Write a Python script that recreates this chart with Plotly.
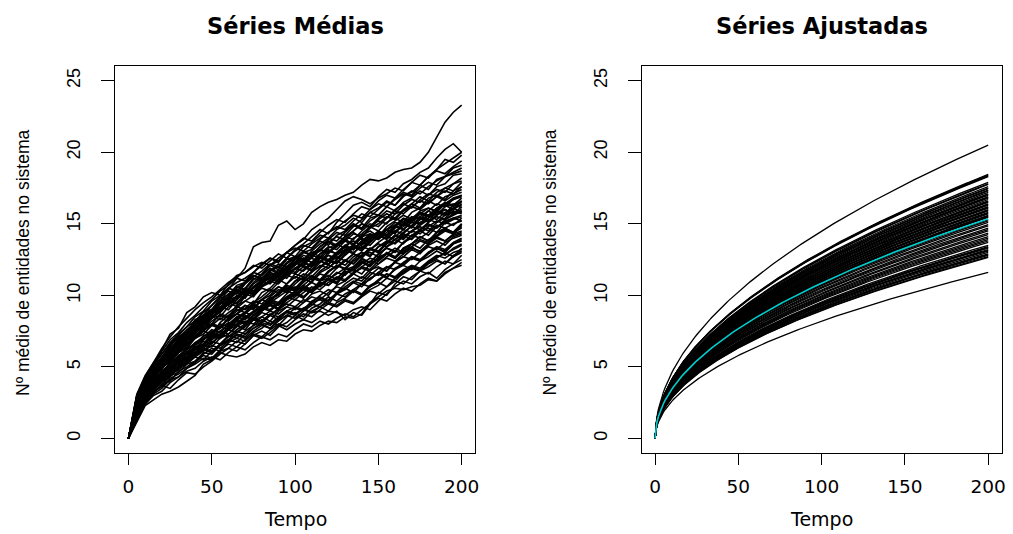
import plotly.graph_objects as go

# ---- Séries médias: nº médio de entidades no sistema, lido a cada 5 unidades de tempo ----
tempo_medias = list(range(0, 201, 5))

serie_01 = [0, 2.4, 3.5, 4.4, 5.0, 5.6, 6.3, 6.9, 7.6, 8.4, 8.9, 9.6, 10.4, 11.2, 11.9, 13.4, 13.7, 13.8, 14.9, 15.2, 14.6, 15.0, 15.8, 16.2, 16.5, 16.7, 17.0, 17.2, 17.7, 18.1, 18.0, 18.2, 18.6, 18.8, 18.9, 19.3, 20.0, 21.0, 22.1, 22.8, 23.3]
serie_02 = [0, 2.9, 4.2, 5.0, 6.2, 7.3, 7.7, 8.8, 9.2, 9.9, 10.2, 10.0, 10.8, 11.4, 11.6, 12.1, 11.9, 12.4, 12.9, 12.6, 13.2, 13.6, 14.1, 14.6, 14.3, 15.1, 15.7, 16.3, 16.5, 16.2, 16.9, 17.4, 17.2, 17.8, 18.1, 18.6, 18.9, 19.6, 20.2, 20.6, 20.0]
serie_03 = [0, 2.6, 3.9, 4.9, 5.6, 6.2, 6.9, 7.4, 8.3, 8.6, 9.3, 9.9, 10.5, 10.9, 11.2, 11.6, 12.2, 12.6, 12.3, 13.0, 13.5, 13.9, 14.6, 15.0, 15.4, 16.0, 16.6, 16.9, 16.7, 16.4, 16.8, 17.1, 17.5, 17.3, 17.9, 18.4, 18.2, 18.8, 19.5, 19.3, 19.8]
serie_04 = [0, 1.1, 2.3, 2.7, 3.1, 3.3, 3.6, 4.0, 4.4, 5.2, 5.5, 6.0, 5.8, 5.7, 5.9, 6.4, 6.7, 6.5, 6.9, 6.8, 7.3, 7.6, 7.5, 7.9, 8.2, 8.1, 8.5, 8.4, 8.7, 9.5, 9.9, 10.3, 10.5, 10.4, 10.6, 10.7, 11.1, 11.0, 11.6, 11.9, 12.1]
serie_05 = [0, 1.5, 2.6, 3.2, 3.7, 3.5, 4.1, 4.6, 4.5, 5.0, 5.4, 5.9, 6.3, 6.1, 6.6, 7.2, 7.0, 7.4, 7.9, 7.6, 8.0, 8.3, 8.1, 8.5, 8.9, 8.8, 8.6, 9.0, 9.2, 9.0, 9.6, 10.1, 10.6, 11.0, 10.8, 11.3, 11.6, 11.2, 11.8, 12.2, 12.5]
serie_06 = [0, 1.8, 2.9, 3.6, 4.1, 4.6, 4.9, 5.5, 5.9, 6.3, 6.1, 6.6, 7.2, 7.0, 7.5, 7.9, 8.3, 8.0, 8.5, 8.9, 8.7, 9.1, 8.8, 8.9, 8.6, 8.9, 8.3, 8.8, 8.6, 9.4, 10.2, 10.0, 10.8, 11.3, 11.1, 11.7, 12.0, 12.4, 12.2, 12.7, 13.0]
serie_07 = [0, 2.0, 3.2, 3.8, 4.6, 4.9, 5.5, 6.1, 6.0, 6.6, 7.2, 7.0, 7.6, 8.2, 8.0, 8.6, 9.1, 8.9, 9.4, 9.8, 10.2, 9.9, 10.4, 10.9, 10.7, 11.2, 11.0, 11.5, 12.0, 11.8, 12.4, 12.9, 12.6, 13.1, 13.4, 13.0, 13.6, 14.1, 13.8, 14.3, 14.5]
serie_08 = [0, 2.4, 3.5, 4.3, 4.8, 5.6, 6.0, 6.4, 7.0, 7.5, 7.3, 8.1, 8.6, 9.0, 8.8, 9.5, 9.9, 10.4, 10.2, 10.8, 11.3, 11.1, 11.7, 12.0, 12.5, 12.3, 12.9, 13.4, 13.1, 13.7, 14.2, 14.0, 14.5, 14.3, 14.9, 15.4, 15.1, 15.6, 16.0, 15.7, 15.8]
serie_09 = [0, 2.7, 3.9, 4.5, 5.4, 6.0, 6.7, 7.0, 7.8, 8.1, 8.6, 9.2, 9.0, 9.7, 10.3, 10.1, 10.8, 11.3, 11.0, 11.6, 12.1, 12.6, 12.3, 12.9, 13.4, 13.2, 13.8, 14.3, 14.1, 14.7, 15.0, 15.5, 15.3, 15.9, 16.2, 16.0, 16.5, 16.9, 16.6, 17.0, 17.2]
serie_10 = [0, 2.1, 3.0, 3.6, 4.1, 4.7, 5.0, 5.4, 5.9, 6.3, 6.8, 6.6, 7.1, 7.4, 7.8, 8.3, 8.1, 8.6, 9.0, 9.4, 9.2, 9.7, 9.5, 10.0, 10.4, 10.2, 10.8, 11.2, 11.0, 11.6, 11.4, 11.9, 12.3, 12.1, 12.6, 12.4, 12.9, 13.3, 13.1, 13.6, 13.8]
serie_11 = [0, 2.5, 3.7, 4.6, 5.2, 5.9, 6.5, 6.9, 7.4, 7.9, 8.5, 8.3, 8.8, 9.2, 9.0, 9.4, 9.7, 9.5, 9.9, 10.3, 10.1, 10.5, 10.9, 10.6, 11.1, 11.5, 11.9, 11.7, 12.2, 12.6, 12.4, 12.9, 13.3, 13.0, 13.6, 13.9, 13.7, 14.2, 14.6, 14.4, 15.0]
serie_12 = [0, 2.3, 3.4, 4.2, 5.0, 5.5, 6.2, 6.7, 7.1, 7.7, 8.2, 8.6, 8.4, 9.1, 9.6, 10.0, 10.5, 10.3, 10.9, 11.4, 11.2, 11.8, 12.3, 12.7, 12.5, 13.0, 13.5, 13.2, 13.8, 14.3, 14.1, 14.6, 14.9, 15.4, 15.2, 15.7, 15.5, 16.0, 16.4, 16.2, 16.5]
serie_13 = [0, 2.8, 4.0, 4.9, 5.6, 6.4, 6.8, 7.5, 8.0, 8.5, 8.9, 9.5, 9.8, 10.4, 10.2, 10.9, 11.4, 11.9, 11.6, 12.3, 12.7, 12.5, 13.1, 13.6, 14.0, 13.8, 14.4, 14.9, 14.6, 15.2, 15.6, 15.4, 16.0, 16.4, 16.1, 16.7, 17.1, 16.9, 17.5, 17.8, 18.0]
serie_14 = [0, 1.9, 2.8, 3.4, 3.9, 4.3, 4.9, 5.2, 5.7, 5.5, 6.1, 6.5, 6.9, 6.7, 7.3, 7.7, 8.1, 7.9, 8.4, 8.8, 8.6, 9.1, 9.4, 9.2, 9.7, 10.1, 9.9, 10.4, 10.8, 10.6, 11.1, 11.5, 11.3, 11.8, 12.1, 11.9, 12.4, 12.8, 12.6, 13.0, 13.2]
serie_15 = [0, 2.2, 3.6, 4.4, 5.1, 5.7, 6.3, 6.6, 7.2, 7.6, 8.0, 7.8, 8.3, 8.7, 8.5, 8.9, 9.3, 9.6, 9.4, 9.9, 10.3, 10.7, 11.2, 11.0, 11.6, 12.1, 11.9, 12.5, 13.0, 12.8, 13.4, 13.8, 13.6, 14.1, 14.5, 14.3, 14.8, 15.2, 15.0, 15.3, 15.5]
serie_16 = [0, 2.9, 4.2, 5.1, 5.9, 6.6, 7.2, 7.8, 8.2, 8.8, 9.3, 9.9, 10.3, 10.1, 10.8, 11.3, 11.7, 12.2, 12.0, 12.6, 13.1, 13.5, 13.3, 13.9, 14.4, 14.8, 14.6, 15.2, 15.7, 15.5, 16.0, 16.5, 16.3, 16.9, 17.3, 17.1, 17.6, 18.0, 18.3, 18.5, 18.7]
serie_17 = [0, 2.0, 3.1, 3.9, 4.4, 5.0, 5.3, 5.9, 6.3, 6.1, 6.7, 7.1, 7.6, 7.4, 7.9, 8.3, 8.8, 8.6, 9.1, 9.5, 9.9, 10.4, 10.2, 10.7, 11.1, 11.6, 11.4, 12.0, 12.5, 12.3, 12.9, 13.3, 13.1, 13.7, 14.2, 14.0, 14.4, 14.9, 14.7, 15.0, 15.2]
serie_18 = [0, 2.8, 4.1, 5.0, 5.7, 6.5, 7.1, 7.5, 8.1, 8.6, 9.0, 9.5, 9.3, 9.9, 10.4, 10.2, 10.7, 11.0, 10.8, 11.4, 11.9, 11.7, 12.2, 12.6, 12.4, 12.9, 13.4, 13.2, 13.8, 14.2, 14.0, 14.6, 15.1, 14.9, 15.4, 15.8, 15.6, 16.1, 16.5, 16.3, 16.8]
serie_19 = [0, 1.6, 2.7, 3.3, 3.6, 4.2, 4.5, 4.9, 5.3, 5.8, 5.6, 6.2, 6.6, 6.4, 6.9, 7.3, 7.1, 7.6, 8.0, 7.8, 8.3, 8.7, 8.5, 9.0, 9.4, 9.2, 9.6, 9.4, 9.9, 10.3, 10.1, 10.6, 11.0, 10.8, 11.3, 11.7, 11.5, 12.0, 12.4, 12.2, 12.8]
serie_20 = [0, 2.4, 3.5, 4.4, 4.9, 5.5, 6.0, 6.6, 7.0, 7.5, 8.0, 7.8, 8.4, 8.9, 9.3, 9.1, 9.7, 10.2, 10.6, 10.4, 11.0, 11.5, 11.3, 11.9, 12.4, 12.2, 12.8, 13.3, 13.7, 13.5, 14.1, 14.6, 14.4, 15.0, 15.5, 15.3, 15.9, 16.4, 16.2, 16.7, 17.0]
serie_21 = [0, 3.0, 4.3, 5.3, 6.1, 6.9, 7.4, 8.1, 8.6, 9.2, 9.7, 10.3, 10.7, 11.2, 11.0, 11.6, 12.1, 12.6, 12.4, 13.0, 13.5, 14.0, 13.8, 14.4, 14.9, 15.3, 15.1, 15.7, 16.2, 16.0, 16.6, 17.0, 16.8, 17.4, 17.9, 17.7, 18.3, 18.7, 18.5, 19.0, 19.4]
serie_22 = [0, 2.1, 3.3, 3.8, 4.5, 4.9, 5.4, 5.7, 6.2, 6.6, 7.1, 7.5, 7.3, 7.8, 8.2, 8.0, 8.5, 8.9, 8.7, 9.2, 9.0, 9.5, 9.9, 9.7, 10.2, 10.6, 10.4, 10.9, 11.3, 11.1, 11.6, 12.0, 11.8, 12.3, 12.7, 12.5, 13.0, 13.4, 13.2, 13.7, 14.0]
serie_23 = [0, 2.3, 3.3, 4.1, 4.7, 5.2, 5.8, 6.2, 6.7, 7.1, 7.6, 7.4, 8.0, 8.5, 8.3, 8.8, 9.3, 9.7, 9.5, 10.1, 10.6, 10.4, 11.0, 11.5, 11.3, 11.9, 12.4, 12.2, 12.8, 13.3, 13.1, 13.7, 14.2, 14.0, 14.5, 14.9, 15.3, 15.1, 15.6, 15.8, 16.0]
serie_24 = [0, 2.6, 3.8, 4.7, 5.3, 6.0, 6.5, 7.1, 7.7, 8.2, 8.7, 9.1, 9.6, 9.4, 10.0, 10.5, 11.0, 10.8, 11.4, 11.9, 12.3, 12.1, 12.7, 13.2, 13.0, 13.6, 14.1, 13.9, 14.5, 15.0, 14.8, 15.4, 15.9, 15.7, 16.2, 16.6, 16.4, 16.9, 17.3, 17.1, 17.6]
serie_25 = [0, 2.5, 3.6, 4.2, 5.0, 5.6, 6.1, 6.8, 7.3, 7.9, 8.4, 8.9, 9.4, 9.9, 10.3, 10.1, 10.6, 11.1, 11.6, 11.4, 11.9, 12.3, 12.1, 12.6, 12.4, 12.8, 13.2, 13.0, 13.4, 13.2, 13.7, 14.1, 13.9, 14.4, 14.8, 14.6, 15.1, 15.5, 15.3, 15.7, 15.9]
serie_26 = [0, 1.8, 2.9, 3.5, 4.0, 4.5, 4.8, 5.3, 5.7, 6.1, 6.5, 6.3, 6.8, 7.2, 7.0, 7.5, 7.9, 7.7, 8.2, 8.6, 8.4, 8.9, 9.3, 9.8, 9.6, 10.1, 10.6, 11.0, 10.8, 11.4, 11.9, 11.7, 12.3, 12.7, 12.5, 13.0, 13.4, 13.2, 13.7, 14.0, 14.2]
serie_27 = [0, 2.9, 4.0, 4.8, 5.7, 6.2, 6.9, 7.4, 8.0, 8.4, 8.9, 9.4, 9.9, 10.3, 10.1, 10.6, 11.0, 11.5, 11.3, 11.8, 12.3, 12.8, 12.6, 13.2, 13.7, 14.1, 13.9, 14.5, 15.0, 14.8, 15.4, 15.9, 15.7, 16.3, 16.7, 16.5, 17.0, 17.4, 17.2, 17.8, 18.2]
serie_28 = [0, 2.2, 3.2, 4.0, 4.5, 5.1, 5.6, 5.9, 6.5, 6.9, 7.4, 7.2, 7.8, 8.3, 8.1, 8.6, 9.0, 9.5, 9.3, 9.8, 10.1, 9.9, 10.4, 10.9, 10.7, 11.2, 11.7, 11.5, 12.0, 12.4, 12.2, 12.7, 13.1, 12.9, 13.4, 13.8, 13.6, 14.1, 14.5, 14.3, 14.8]
serie_29 = [0, 2.6, 3.8, 4.8, 5.4, 6.1, 6.8, 7.3, 7.9, 8.5, 9.0, 9.6, 10.1, 10.5, 10.9, 11.4, 11.2, 11.7, 12.2, 12.0, 12.5, 12.3, 12.8, 12.6, 13.1, 12.9, 13.4, 13.2, 13.7, 14.1, 13.9, 14.4, 14.8, 14.6, 15.1, 15.0, 15.4, 15.8, 15.6, 16.1, 16.3]
serie_30 = [0, 2.0, 3.1, 3.7, 4.3, 4.8, 5.2, 5.7, 6.2, 6.6, 7.0, 7.5, 7.9, 8.4, 8.8, 9.3, 9.1, 9.7, 10.2, 10.7, 10.5, 11.1, 11.6, 12.1, 11.9, 12.5, 13.0, 13.5, 13.3, 13.9, 14.4, 14.2, 14.8, 15.3, 15.1, 15.7, 16.1, 15.9, 16.4, 16.7, 16.9]
serie_31 = [0, 2.0, 3.0, 3.7, 4.3, 4.6, 5.1, 5.6, 6.0, 6.4, 6.9, 7.3, 7.1, 7.6, 8.0, 8.4, 8.2, 8.7, 8.5, 8.9, 8.7, 9.0, 8.8, 9.2, 9.5, 9.3, 9.7, 9.5, 10.0, 10.4, 10.7, 11.2, 11.0, 11.6, 12.0, 11.8, 12.3, 12.7, 12.9, 13.2, 13.5]
serie_32 = [0, 2.7, 3.9, 4.7, 5.4, 6.1, 6.6, 7.2, 7.7, 8.3, 8.8, 9.2, 9.7, 10.2, 10.0, 10.6, 11.1, 11.6, 11.4, 12.0, 12.5, 13.0, 12.8, 13.4, 13.9, 14.4, 14.2, 14.8, 15.3, 15.8, 15.6, 16.2, 16.8, 17.2, 17.0, 17.7, 18.3, 18.8, 19.2, 19.6, 20.0]
serie_33 = [0, 3.1, 4.4, 5.3, 6.3, 7.1, 7.8, 8.4, 9.0, 9.5, 9.9, 10.4, 10.9, 11.3, 11.6, 12.0, 12.3, 12.1, 12.6, 13.0, 13.3, 13.1, 13.6, 14.0, 14.4, 14.7, 15.2, 15.6, 15.4, 16.0, 16.4, 16.2, 16.7, 17.1, 16.9, 17.5, 17.9, 17.7, 18.3, 18.6, 18.9]
serie_34 = [0, 1.3, 2.4, 3.0, 3.3, 3.9, 4.3, 4.7, 4.9, 5.4, 5.7, 5.5, 6.0, 6.4, 6.2, 6.7, 7.1, 6.9, 7.3, 7.1, 7.6, 8.0, 7.8, 8.2, 8.0, 8.4, 8.7, 8.5, 9.0, 9.4, 9.8, 9.6, 10.1, 10.5, 10.3, 10.8, 11.2, 11.0, 11.5, 11.9, 12.3]
serie_35 = [0, 2.4, 3.6, 4.3, 5.0, 5.4, 6.1, 6.5, 7.1, 7.6, 7.9, 8.4, 8.2, 8.7, 9.1, 9.6, 9.4, 9.9, 10.4, 10.2, 10.8, 11.3, 11.1, 11.7, 12.1, 11.9, 12.4, 12.9, 12.7, 13.2, 13.6, 13.4, 13.9, 14.3, 14.1, 14.6, 14.9, 14.7, 15.2, 15.4, 15.6]
serie_36 = [0, 2.3, 3.4, 4.0, 4.6, 5.3, 5.7, 6.3, 6.6, 7.0, 7.3, 7.7, 8.1, 7.9, 8.4, 8.8, 9.2, 9.0, 9.5, 9.9, 9.7, 10.2, 10.6, 10.4, 10.9, 11.3, 11.1, 11.6, 11.9, 11.7, 12.2, 12.6, 12.4, 12.9, 13.3, 13.1, 13.6, 14.0, 13.8, 14.2, 14.4]
serie_37 = [0, 2.6, 3.4, 4.5, 4.9, 5.8, 6.1, 6.9, 7.1, 7.8, 8.0, 8.7, 8.5, 9.3, 9.6, 9.4, 10.2, 10.5, 11.1, 10.8, 11.5, 11.3, 12.0, 12.4, 12.1, 12.9, 13.2, 12.9, 13.6, 14.0, 14.5, 14.2, 14.9, 15.1, 14.8, 15.5, 15.9, 15.6, 16.2, 16.4, 16.1]
serie_38 = [0, 1.9, 3.0, 3.5, 4.3, 4.6, 5.3, 5.5, 6.2, 6.5, 7.1, 7.0, 7.6, 7.9, 8.5, 8.3, 8.9, 9.3, 9.1, 9.8, 10.0, 10.6, 10.3, 11.0, 11.4, 11.1, 11.8, 12.0, 12.6, 12.3, 12.9, 13.3, 13.0, 13.7, 14.0, 14.5, 14.2, 14.8, 15.1, 14.9, 15.4]
serie_39 = [0, 2.9, 3.7, 4.8, 5.2, 6.1, 6.4, 7.2, 7.5, 8.3, 8.4, 9.1, 9.4, 10.0, 9.8, 10.6, 10.9, 11.5, 11.2, 12.0, 12.3, 12.0, 12.8, 13.1, 13.7, 13.4, 14.1, 14.4, 14.0, 14.8, 15.2, 15.0, 15.7, 15.9, 16.4, 16.1, 16.8, 17.0, 16.7, 17.3, 17.6]
serie_40 = [0, 2.2, 2.9, 3.8, 4.1, 4.8, 5.0, 5.7, 5.9, 6.5, 6.4, 7.0, 7.3, 7.9, 7.6, 8.3, 8.5, 8.2, 8.9, 9.2, 9.7, 9.5, 10.1, 10.3, 10.0, 10.7, 11.0, 11.5, 11.2, 11.8, 12.0, 11.7, 12.4, 12.7, 13.2, 12.9, 13.5, 13.8, 13.5, 14.1, 14.3]
serie_41 = [0, 2.8, 4.0, 4.7, 5.6, 6.0, 6.9, 7.1, 7.9, 8.2, 8.9, 9.0, 9.7, 9.9, 10.5, 10.3, 10.9, 11.2, 10.9, 11.6, 11.8, 12.3, 12.0, 12.6, 12.8, 12.5, 13.2, 13.5, 14.0, 13.7, 14.3, 14.6, 14.3, 15.0, 15.3, 15.8, 15.5, 16.1, 16.3, 16.0, 16.6]
serie_42 = [0, 2.3, 3.1, 4.1, 4.4, 5.3, 5.5, 6.3, 6.5, 7.2, 7.3, 8.0, 7.8, 8.5, 8.8, 9.4, 9.1, 9.8, 10.0, 10.6, 10.4, 11.0, 11.3, 11.0, 11.7, 12.0, 12.5, 12.2, 12.8, 13.0, 12.7, 13.4, 13.7, 14.2, 13.9, 14.5, 14.7, 14.4, 15.1, 15.4, 15.2]
serie_43 = [0, 2.5, 3.9, 4.6, 5.5, 6.1, 6.7, 7.3, 7.6, 8.4, 8.7, 9.4, 9.6, 10.3, 10.5, 11.2, 11.0, 11.7, 12.0, 12.6, 12.3, 13.0, 13.2, 13.8, 13.5, 14.2, 14.5, 15.0, 14.7, 15.4, 15.6, 16.2, 15.9, 16.5, 16.8, 17.3, 17.0, 17.6, 17.8, 18.4, 18.5]
serie_44 = [0, 1.7, 2.6, 3.3, 3.7, 4.4, 4.6, 5.2, 5.4, 6.0, 5.9, 6.5, 6.8, 7.3, 7.1, 7.7, 8.0, 7.7, 8.3, 8.6, 9.1, 8.9, 9.5, 9.7, 9.4, 10.1, 10.4, 10.9, 10.6, 11.2, 11.5, 11.2, 11.9, 12.2, 12.7, 12.4, 13.0, 13.3, 13.0, 13.6, 13.9]
serie_45 = [0, 2.4, 3.8, 4.4, 5.3, 5.8, 6.6, 6.8, 7.6, 7.9, 8.6, 8.5, 9.2, 9.5, 10.1, 9.9, 10.6, 10.9, 11.4, 11.2, 11.9, 12.1, 11.8, 12.4, 12.2, 12.7, 12.4, 12.9, 12.6, 13.2, 13.0, 13.7, 14.1, 14.6, 14.4, 15.1, 15.4, 15.9, 15.7, 16.3, 16.6]
serie_46 = [0, 2.7, 4.1, 5.0, 5.6, 6.5, 7.0, 7.6, 8.1, 8.9, 9.0, 9.8, 10.0, 10.7, 10.9, 11.6, 11.4, 12.1, 12.4, 13.0, 12.7, 13.4, 13.7, 14.2, 14.0, 14.6, 14.9, 15.4, 15.1, 15.8, 16.1, 16.6, 16.3, 17.0, 17.2, 17.7, 17.4, 18.1, 18.3, 18.9, 19.1]
serie_47 = [0, 2.1, 3.3, 3.9, 4.7, 5.0, 5.7, 6.0, 6.7, 6.9, 7.5, 7.4, 8.0, 8.2, 8.8, 8.6, 9.2, 9.5, 9.3, 9.9, 10.2, 10.7, 10.4, 11.0, 11.2, 10.9, 11.6, 11.9, 12.4, 12.1, 12.7, 12.9, 12.6, 13.3, 13.6, 14.1, 13.8, 14.4, 14.6, 14.3, 14.9]
serie_48 = [0, 2.6, 3.6, 4.6, 5.4, 5.8, 6.7, 7.0, 7.7, 8.0, 8.8, 8.9, 9.6, 9.8, 10.4, 10.2, 10.9, 11.2, 11.8, 11.5, 12.2, 12.4, 13.0, 12.7, 13.3, 13.6, 13.3, 14.0, 14.3, 14.8, 14.5, 15.1, 15.4, 15.1, 15.8, 16.1, 16.6, 16.3, 16.9, 17.1, 17.4]
serie_49 = [0, 1.4, 2.5, 3.1, 3.5, 4.1, 4.3, 4.9, 5.2, 5.6, 5.5, 6.1, 6.3, 6.8, 6.6, 7.2, 7.5, 7.2, 7.8, 8.1, 8.6, 8.3, 8.9, 9.2, 8.9, 9.5, 9.8, 10.3, 10.0, 10.6, 10.9, 10.6, 11.2, 11.5, 11.9, 11.7, 12.2, 12.5, 12.2, 12.8, 13.1]
serie_50 = [0, 2.3, 3.5, 4.1, 5.0, 5.3, 6.0, 6.3, 7.0, 7.3, 7.9, 7.7, 8.4, 8.7, 9.3, 9.0, 9.7, 10.0, 10.6, 10.3, 11.0, 11.2, 10.9, 11.6, 11.9, 12.4, 12.1, 12.7, 13.0, 12.7, 13.4, 13.7, 14.2, 13.9, 14.5, 14.8, 14.5, 15.1, 15.4, 15.9, 15.7]
serie_51 = [0, 2.7, 3.9, 4.9, 5.5, 6.3, 6.7, 7.5, 7.8, 8.6, 8.9, 9.6, 9.9, 10.6, 10.4, 11.1, 11.5, 12.1, 11.8, 12.5, 12.7, 12.4, 13.0, 13.2, 12.9, 13.5, 13.8, 13.5, 14.1, 14.3, 14.0, 14.6, 14.9, 14.6, 15.2, 15.5, 15.2, 15.8, 16.0, 15.7, 16.2]
serie_52 = [0, 2.0, 3.2, 3.6, 4.5, 4.8, 5.5, 5.7, 6.4, 6.6, 7.3, 7.1, 7.7, 8.0, 8.6, 8.4, 9.0, 9.3, 9.0, 9.7, 10.0, 10.5, 10.2, 10.8, 11.1, 10.8, 11.5, 11.8, 12.3, 12.0, 12.6, 12.9, 12.6, 13.3, 13.6, 14.1, 13.8, 14.4, 14.7, 14.4, 15.0]
serie_53 = [0, 2.5, 3.4, 4.3, 5.1, 5.5, 6.4, 6.8, 7.5, 7.7, 8.4, 8.9, 9.5, 9.2, 9.9, 10.5, 10.9, 11.4, 11.1, 11.7, 11.5, 12.0, 11.7, 12.3, 12.8, 12.6, 13.1, 13.5, 13.2, 13.8, 14.2, 13.9, 14.5, 14.8, 15.3, 15.0, 15.6, 15.9, 15.6, 16.0, 16.4]
serie_54 = [0, 2.2, 3.1, 3.9, 4.2, 5.0, 5.2, 5.9, 6.3, 6.8, 6.6, 7.3, 7.7, 8.2, 8.0, 8.6, 8.9, 9.4, 9.1, 9.7, 10.1, 9.8, 10.4, 10.7, 11.2, 10.9, 11.5, 11.8, 11.5, 12.2, 12.5, 13.0, 12.7, 13.2, 13.6, 13.3, 13.9, 14.2, 14.7, 14.4, 14.7]
serie_55 = [0, 2.5, 3.7, 4.3, 5.2, 5.9, 6.3, 7.1, 7.4, 8.1, 8.5, 8.8, 9.4, 9.7, 10.3, 10.0, 10.7, 11.0, 11.6, 11.9, 11.6, 12.3, 12.6, 12.3, 13.0, 13.4, 13.9, 13.6, 14.2, 14.5, 14.1, 14.8, 15.2, 15.6, 15.3, 15.9, 16.1, 15.8, 16.4, 16.8, 17.0]
serie_56 = [0, 1.9, 2.8, 3.5, 4.0, 4.4, 5.0, 5.3, 5.8, 6.2, 6.0, 6.6, 6.9, 7.5, 7.3, 7.9, 8.1, 8.6, 8.3, 8.9, 9.2, 9.0, 9.6, 9.9, 9.6, 10.2, 10.5, 10.2, 10.8, 11.1, 11.6, 11.3, 11.8, 12.1, 11.8, 12.4, 12.7, 13.1, 12.8, 13.3, 13.6]
serie_57 = [0, 2.8, 3.8, 4.8, 5.6, 6.2, 6.9, 7.2, 8.0, 8.4, 8.7, 9.4, 9.8, 10.4, 10.1, 10.8, 11.2, 11.8, 11.5, 12.2, 12.6, 13.1, 12.8, 13.4, 13.8, 13.5, 14.1, 14.5, 15.0, 14.7, 15.3, 15.7, 15.4, 16.0, 16.4, 16.9, 16.6, 17.2, 17.5, 17.3, 17.9]
serie_58 = [0, 2.0, 2.9, 3.7, 4.4, 4.7, 5.4, 5.9, 6.2, 6.9, 7.3, 7.8, 7.6, 8.3, 8.7, 9.2, 9.0, 9.6, 10.1, 10.5, 10.3, 10.9, 11.4, 11.1, 11.7, 12.1, 11.8, 12.4, 12.8, 13.3, 13.0, 13.6, 13.9, 13.6, 14.2, 14.6, 15.0, 14.7, 15.3, 15.6, 15.9]
serie_59 = [0, 3.0, 4.1, 5.2, 5.9, 6.7, 7.3, 7.8, 8.5, 8.9, 9.6, 10.0, 10.5, 10.3, 10.9, 11.4, 11.1, 11.7, 12.0, 11.7, 12.3, 12.6, 12.3, 12.9, 13.2, 12.9, 13.5, 13.8, 13.5, 14.0, 14.4, 14.1, 14.7, 15.0, 14.7, 15.3, 15.6, 15.3, 15.8, 16.1, 15.8]
serie_60 = [0, 1.6, 2.6, 3.2, 3.8, 4.0, 4.7, 5.0, 5.4, 5.9, 6.3, 6.1, 6.7, 7.0, 6.8, 7.4, 7.7, 8.2, 7.9, 8.5, 8.8, 8.5, 9.1, 9.4, 9.9, 9.6, 10.1, 10.4, 10.1, 10.7, 11.0, 11.5, 11.2, 11.7, 12.0, 11.7, 12.3, 12.6, 13.0, 12.7, 13.3]

series_medias = [
    serie_01, serie_02, serie_03, serie_04, serie_05, serie_06, serie_07, serie_08, serie_09,
    serie_10, serie_11, serie_12, serie_13, serie_14, serie_15, serie_16, serie_17, serie_18,
    serie_19, serie_20, serie_21, serie_22, serie_23, serie_24, serie_25, serie_26, serie_27,
    serie_28, serie_29, serie_30, serie_31, serie_32, serie_33, serie_34, serie_35, serie_36,
    serie_37, serie_38, serie_39, serie_40, serie_41, serie_42, serie_43, serie_44, serie_45,
    serie_46, serie_47, serie_48, serie_49, serie_50, serie_51, serie_52, serie_53, serie_54,
    serie_55, serie_56, serie_57, serie_58, serie_59, serie_60,
]

# ---- Séries ajustadas: modelo y = c * (t/200)^b, c = valor ajustado em t = 200 ----
tempo_ajuste = list(range(0, 201))
expoente = 0.5
fim_ajustadas = [
    20.5,
    18.45, 18.4, 18.35, 18.3,
    17.9, 17.8, 17.75, 17.6, 17.5, 17.45, 17.35, 17.3, 17.2,
    17.1, 17.05, 17.0, 16.9, 16.85, 16.8, 16.7, 16.6, 16.55, 16.5, 16.4, 16.35, 16.3,
    16.2, 16.15, 16.1, 16.0, 15.95, 15.9, 15.8, 15.75, 15.7, 15.6, 15.55, 15.5, 15.45,
    15.3, 15.2, 15.1, 14.95, 14.85, 14.7, 14.6, 14.5, 14.35, 14.25, 14.1, 14.0, 13.9,
    13.8, 13.7,
    13.5, 13.4, 13.35, 13.3, 13.2, 13.15, 13.1, 13.0, 12.9, 12.85, 12.8, 12.7, 12.65,
    11.6,
]
fim_media_ajustada = 15.36

ticks_x = [0, 50, 100, 150, 200]
ticks_y = [0, 5, 10, 15, 20, 25]

W, H = 1013, 534
fig = go.Figure()

for serie in series_medias:
    fig.add_trace(go.Scatter(x=tempo_medias, y=serie, mode="lines",
                             line=dict(color="black", width=1.6),
                             xaxis="x", yaxis="y", showlegend=False, hoverinfo="skip"))

for c in fim_ajustadas:
    fig.add_trace(go.Scatter(x=tempo_ajuste, y=[c * (t / 200) ** expoente for t in tempo_ajuste],
                             mode="lines", line=dict(color="black", width=1.3),
                             xaxis="x2", yaxis="y2", showlegend=False, hoverinfo="skip"))

fig.add_trace(go.Scatter(x=tempo_ajuste,
                         y=[fim_media_ajustada * (t / 200) ** expoente for t in tempo_ajuste],
                         mode="lines", line=dict(color="#00CDCD", width=1.6),
                         xaxis="x2", yaxis="y2", showlegend=False, hoverinfo="skip"))

def px_x(v):
    return v / W

def px_y(v):
    return 1 - v / H

eixo_x = dict(range=[-8, 208], tickvals=ticks_x, ticks="outside", ticklen=11, tickwidth=1,
              tickcolor="black", showline=True, linecolor="black", linewidth=1, mirror=True,
              showgrid=False, zeroline=False, ticklabelstandoff=6,
              tickfont=dict(family="DejaVu Sans", size=18.5, color="black"))
eixo_y = dict(range=[-1, 26], tickvals=ticks_y, ticks="outside", ticklen=13, tickwidth=1,
              tickcolor="black", showline=True, linecolor="black", linewidth=1, mirror=True,
              showgrid=False, zeroline=False, tickangle=-90, ticklabelstandoff=14,
              tickfont=dict(family="Liberation Sans", size=18, color="black"))

dom_y = [px_y(452.8), px_y(66.4)]
fig.update_layout(
    width=W, height=H, autosize=False,
    margin=dict(l=0, r=0, t=0, b=0),
    paper_bgcolor="white", plot_bgcolor="white",
    xaxis=dict(eixo_x, domain=[px_x(115.6), px_x(476.9)], anchor="y"),
    yaxis=dict(eixo_y, domain=dom_y, anchor="x"),
    xaxis2=dict(eixo_x, domain=[px_x(644.3), px_x(1005.5)], anchor="y2"),
    yaxis2=dict(eixo_y, domain=dom_y, anchor="x2"),
)

paineis = [(115.6, 476.9, "Séries Médias"), (644.3, 1005.5, "Séries Ajustadas")]
for esq, dir_, titulo in paineis:
    centro = (esq + dir_) / 2
    fig.add_annotation(text="<b>" + titulo + "</b>", xref="paper", yref="paper",
                       x=px_x(centro), y=px_y(26), xanchor="center", yanchor="middle",
                       showarrow=False, font=dict(family="DejaVu Sans", size=22.5, color="black"))
    fig.add_annotation(text="Tempo", xref="paper", yref="paper",
                       x=px_x(centro), y=px_y(519), xanchor="center", yanchor="middle",
                       showarrow=False, font=dict(family="DejaVu Sans", size=19, color="black"))
    fig.add_annotation(text="Nº médio de entidades no sistema", xref="paper", yref="paper",
                       x=px_x(esq - 92.6), y=px_y(263), xanchor="center", yanchor="middle",
                       textangle=-90, showarrow=False,
                       font=dict(family="Liberation Sans", size=17.5, color="black"))

fig.write_html("out.html")
